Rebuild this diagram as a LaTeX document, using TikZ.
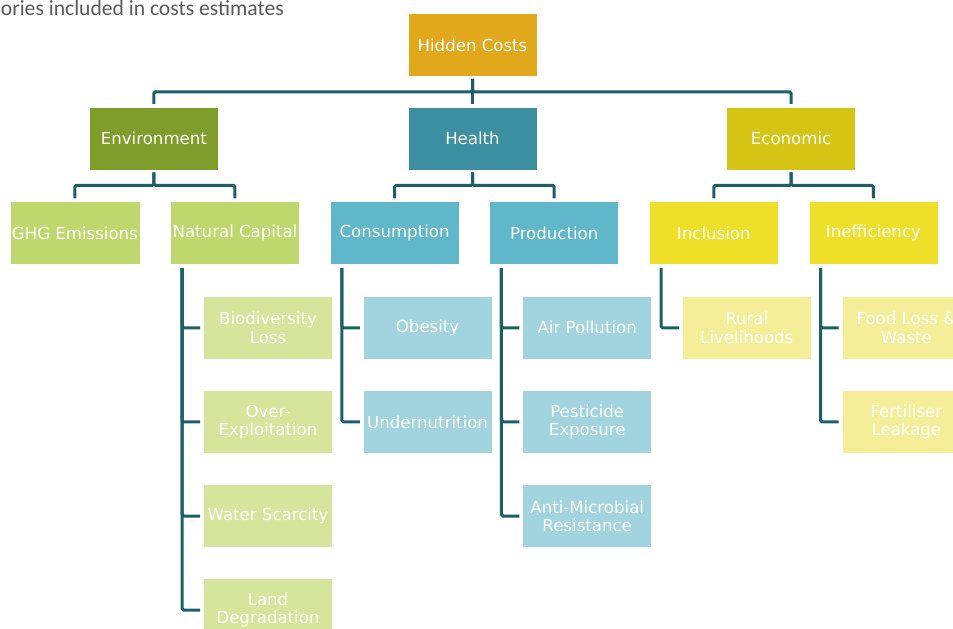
\documentclass[tikz,border=0pt]{standalone}
\usepackage{fontspec}
\setmainfont{DejaVu Sans}
\newfontfamily\titlefont{Carlito}
\usetikzlibrary{positioning}

\definecolor{linkcol}{HTML}{1C5F6A}
\definecolor{titlegray}{HTML}{595959}
\definecolor{rootcol}{HTML}{E1A81C}
\definecolor{envcol}{HTML}{7E9D2A}
\definecolor{healthcol}{HTML}{3B8FA0}
\definecolor{econcol}{HTML}{D5C414}
\definecolor{envmid}{HTML}{BFD86E}
\definecolor{healthmid}{HTML}{5FB7C9}
\definecolor{econmid}{HTML}{EEE028}
\definecolor{envleaf}{HTML}{D5E59C}
\definecolor{healthleaf}{HTML}{A2D4DF}
\definecolor{econleaf}{HTML}{F5EE99}

\begin{document}
\begin{tikzpicture}[x=1pt,y=-1pt,node distance=30pt,
                    link/.style={draw=linkcol,line width=3pt,rounded corners=1.5pt,
                                 shorten <=2pt,shorten >=3pt}]
      \tikzstyle{box}=[rectangle,draw=white,line width=0.6pt,minimum width=129pt,
                       minimum height=63pt,inner sep=2pt,text=white,align=center,
                       font=\fontsize{16.6}{18.3}\selectfont]

      \path[use as bounding box,clip] (0,0) rectangle (953,629);

      \node[anchor=base east,inner sep=0pt,text=titlegray,
            font=\titlefont\fontsize{21.6}{24}\selectfont] (title) at (284,16)
            {ories included in costs estimates};

      % top levels
      \node[box,fill=rootcol]   (hidden) at (472.5,45)              {Hidden Costs};
      \node[box,fill=healthcol] (health) [below=30pt of hidden]     {Health};
      \node[box,fill=envcol]    (env)    [left=189pt of health]     {Environment};
      \node[box,fill=econcol]   (econ)   [right=189pt of health]    {Economic};

      \node[box,fill=envmid]    (ghg)    [below=31pt of env,xshift=-79pt] {GHG Emissions};
      \node[box,fill=envmid]    (natcap) [right=30pt of ghg]    {Natural Capital};
      \node[box,fill=healthmid] (cons)   [right=30pt of natcap] {Consumption};
      \node[box,fill=healthmid] (prod)   [right=30pt of cons]   {Production};
      \node[box,fill=econmid]   (incl)   [right=30pt of prod]   {Inclusion};
      \node[box,fill=econmid]   (ineff)  [right=30pt of incl]   {Inefficiency};

      % leaves
      \node[box,fill=envleaf] (bio)   [below=31pt of natcap,xshift=33pt] {Biodiversity\\Loss};
      \node[box,fill=envleaf] (over)  [below=30.5pt of bio]   {Over-\\Exploitation};
      \node[box,fill=envleaf] (water) [below=30.5pt of over]  {Water Scarcity};
      \node[box,fill=envleaf] (land)  [below=30.5pt of water] {Land\\Degradation};

      \node[box,fill=healthleaf] (obes)  [below=31pt of cons,xshift=33pt] {Obesity};
      \node[box,fill=healthleaf] (under) [below=30.5pt of obes] {Undernutrition};

      \node[box,fill=healthleaf] (air)   [below=31pt of prod,xshift=33pt] {Air Pollution};
      \node[box,fill=healthleaf] (pest)  [below=30.5pt of air]  {Pesticide\\Exposure};
      \node[box,fill=healthleaf] (amr)   [below=30.5pt of pest] {Anti-Microbial\\Resistance};

      \node[box,fill=econleaf] (rural) [below=31pt of incl,xshift=33pt]  {Rural\\Livelihoods};
      \node[box,fill=econleaf] (food)  [below=31pt of ineff,xshift=33pt] {Food Loss \&\\Waste};
      \node[box,fill=econleaf] (fert)  [below=30.5pt of food] {Fertiliser\\Leakage};

      % tree connectors
      \foreach \kid in {env,health,econ}
        \draw[link] (hidden.south) -- ++(0,15) -| (\kid.north);
      \foreach \top/\kid in {env/ghg,env/natcap,health/cons,health/prod,econ/incl,econ/ineff}
        \draw[link] (\top.south) -- ++(0,15) -| (\kid.north);
      \foreach \mid/\kid in {natcap/bio,natcap/over,natcap/water,natcap/land,
                             cons/obes,cons/under,prod/air,prod/pest,prod/amr,
                             incl/rural,ineff/food,ineff/fert}
        \draw[link,shorten <=3pt] ([xshift=12pt]\mid.south west) |- (\kid.west);
\end{tikzpicture}
\end{document}
